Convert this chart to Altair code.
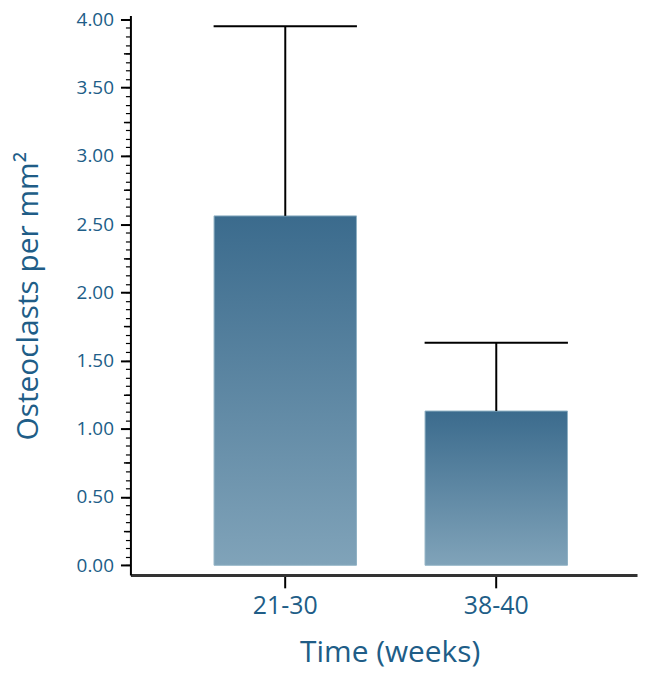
import altair as alt
import pandas as pd

# ---- data ----
groups = ["21-30", "38-40"]
means = [2.56, 1.13]
uppers = [3.95, 1.63]

major_ticks = [0.0, 0.5, 1.0, 1.5, 2.0, 2.5, 3.0, 3.5, 4.0]
mid_ticks = [0.25, 0.75, 1.25, 1.75, 2.25, 2.75, 3.25, 3.75]
minor_step = 0.0625
minor_ticks = [i * minor_step for i in range(65)]

df = pd.DataFrame({"group": groups, "mean": means, "upper": uppers})

TEXT = "#205d87"
FONT = "Open Sans"

yscale = alt.Scale(domain=[-0.0707, 4.028], nice=False)
xscale = alt.Scale(paddingInner=0.325, paddingOuter=0.363, align=0.546)

x_enc = alt.X(
    "group:N",
    sort=groups,
    scale=xscale,
    axis=alt.Axis(
        title="Time (weeks)",
        labelAngle=0,
        labelFont=FONT,
        labelFontSize=25,
        labelColor=TEXT,
        labelBaseline="alphabetic",
        labelPadding=26,
        tickSize=13,
        tickWidth=2,
        tickColor="black",
        domainColor="#333333",
        domainWidth=3,
        titleFont=FONT,
        titleFontSize=30,
        titleFontWeight="normal",
        titleColor=TEXT,
        titleX=260.5,
        titleY=78,
        titleAlign="center",
        titleBaseline="middle",
        grid=False,
    ),
)

gradient = alt.Gradient(
    gradient="linear",
    stops=[
        alt.GradientStop(color="#3b6b8d", offset=0),
        alt.GradientStop(color="#80a3b9", offset=1),
    ],
    x1=0, x2=0, y1=0, y2=1,
)

bars = alt.Chart(df).mark_bar(color=gradient, stroke="#8fb0c4", strokeWidth=1).encode(
    x=x_enc,
    y=alt.Y(
        "mean:Q",
        scale=yscale,
        axis=alt.Axis(
            values=major_ticks,
            format=".2f",
            orient="left",
            title="Osteoclasts per mm²",
            labelFont=FONT,
            labelFontSize=19,
            labelColor=TEXT,
            labelPadding=7,
            tickSize=10,
            tickWidth=2,
            tickColor="black",
            domainColor="black",
            domainWidth=2,
            titleFont=FONT,
            titleFontSize=30,
            titleFontWeight="normal",
            titleColor=TEXT,
            titleAngle=-90,
            titleX=-102,
            titleY=281.5,
            titleAlign="center",
            titleBaseline="middle",
            grid=False,
        ),
    ),
    y2=alt.datum(0),
)

rules = alt.Chart(df).mark_rule(color="black", strokeWidth=2).encode(
    x=alt.X("group:N", sort=groups, scale=xscale),
    y=alt.Y(
        "mean:Q",
        scale=yscale,
        axis=alt.Axis(
            values=mid_ticks,
            orient="left",
            title=None,
            labels=False,
            domain=False,
            tickSize=7,
            tickWidth=1.5,
            tickColor="black",
            grid=False,
        ),
    ),
    y2="upper:Q",
)

caps = alt.Chart(df).mark_tick(color="black", thickness=2, size=144, opacity=1).encode(
    x=alt.X("group:N", sort=groups, scale=xscale),
    y=alt.Y(
        "upper:Q",
        scale=yscale,
        axis=alt.Axis(
            values=minor_ticks,
            orient="left",
            title=None,
            labels=False,
            domain=False,
            tickSize=5,
            tickWidth=1.2,
            tickColor="black",
            grid=False,
        ),
    ),
)

chart = (
    alt.layer(bars, rules, caps)
    .resolve_axis(y="independent")
    .properties(
        width=509,
        height=562,
        autosize=alt.AutoSizeParams(type="none"),
        padding={"left": 123, "top": 6, "right": 5, "bottom": 98},
    )
    .configure_view(stroke=None)
)

chart.save("out.html", embed_options={"renderer": "svg", "actions": False})
